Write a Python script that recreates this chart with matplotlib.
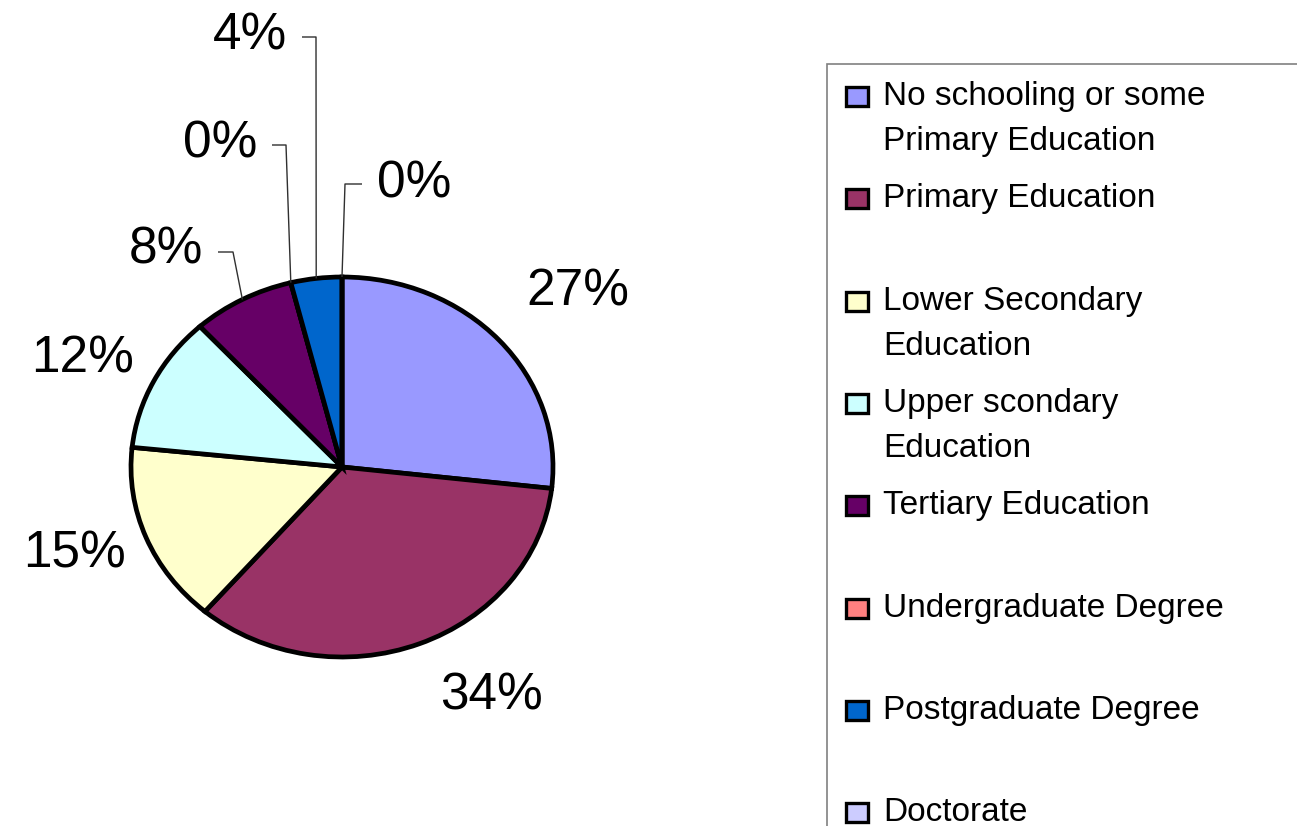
import matplotlib
matplotlib.use("Agg")
import matplotlib.pyplot as plt
from matplotlib.patches import Rectangle
import numpy as np

# ---- data ----
categories = [
    "No schooling or some\nPrimary Education",
    "Primary Education",
    "Lower Secondary\nEducation",
    "Upper scondary\nEducation",
    "Tertiary Education",
    "Undergraduate Degree",
    "Postgraduate Degree",
    "Doctorate",
]
values = [26.8, 34.45, 15.4, 11.6, 7.85, 0, 3.9, 0]
colors = ["#9999FF", "#993366", "#FFFFCC", "#CCFFFF", "#660066",
          "#FF8080", "#0066CC", "#CCCCFF"]

W, H = 1297, 826
FONT = "Liberation Sans"
fig = plt.figure(figsize=(W / 100, H / 100), dpi=100)
fig.patch.set_facecolor("white")

# pie geometry (pixels)
cx, cy, rx, ry = 342, 467, 211, 190

ax = fig.add_axes([0, 0, 1, 1])
wedges, _ = ax.pie(values, colors=colors, startangle=90, counterclock=False,
                   radius=1.0, center=(0, 0),
                   wedgeprops=dict(edgecolor="black", linewidth=3.4,
                                   joinstyle="miter"))
ax.set_aspect("auto")
ax.set_xlim(-cx / rx, (W - cx) / rx)
ax.set_ylim(-(H - cy) / ry, cy / ry)
ax.axis("off")


def px2data(x, y):
    return ((x - cx) / rx, (cy - y) / ry)


# label placement (center x, baseline y, elbow points) in pixels
label_pos = [
    (578, 305, None),
    (491, 710, None),
    (74, 567, None),
    (83, 373, None),
    (166, 263, [(218, 252), (233, 252)]),
    (220, 157, [(272, 145), (286, 145)]),
    (250, 50, [(302, 37), (316, 37)]),
    (414, 197, [(362, 184), (345, 184)]),
]

for w, v, (lx, ly, elbow) in zip(wedges, values, label_pos):
    ax.text(*px2data(lx, ly), f"{v:.0f}%", fontsize=37, family=FONT,
            ha="center", va="baseline", color="black")
    if elbow is not None:
        theta = np.deg2rad((w.theta1 + w.theta2) / 2.0)
        ex, ey = np.cos(theta), np.sin(theta)
        pts = [px2data(*p) for p in elbow] + [(ex, ey)]
        xs, ys = zip(*pts)
        ax.plot(xs, ys, color="#303030", lw=1.0, solid_capstyle="butt", zorder=5)

# ---- legend (drawn in figure pixel coords) ----
def fx(x):
    return x / W


def fy(y):
    return 1 - y / H


fig.add_artist(Rectangle((fx(827), fy(840)), (1320 - 827) / W, (840 - 64) / H,
                         transform=fig.transFigure, facecolor="none",
                         edgecolor="#808080", lw=1.2, clip_on=False))

base0, step, gap = 105, 102.3, 45
for i, (lab, col) in enumerate(zip(categories, colors)):
    b = base0 + i * step
    fig.add_artist(Rectangle((fx(846), fy(b + 1)), 22 / W, 19 / H,
                             transform=fig.transFigure, facecolor=col,
                             edgecolor="black", lw=2.4))
    for j, line in enumerate(lab.split("\n")):
        fig.text(fx(883), fy(b + j * gap), line, fontsize=24, family=FONT,
                 ha="left", va="baseline", color="black")

fig.savefig("out.png", dpi=100, facecolor="white")
